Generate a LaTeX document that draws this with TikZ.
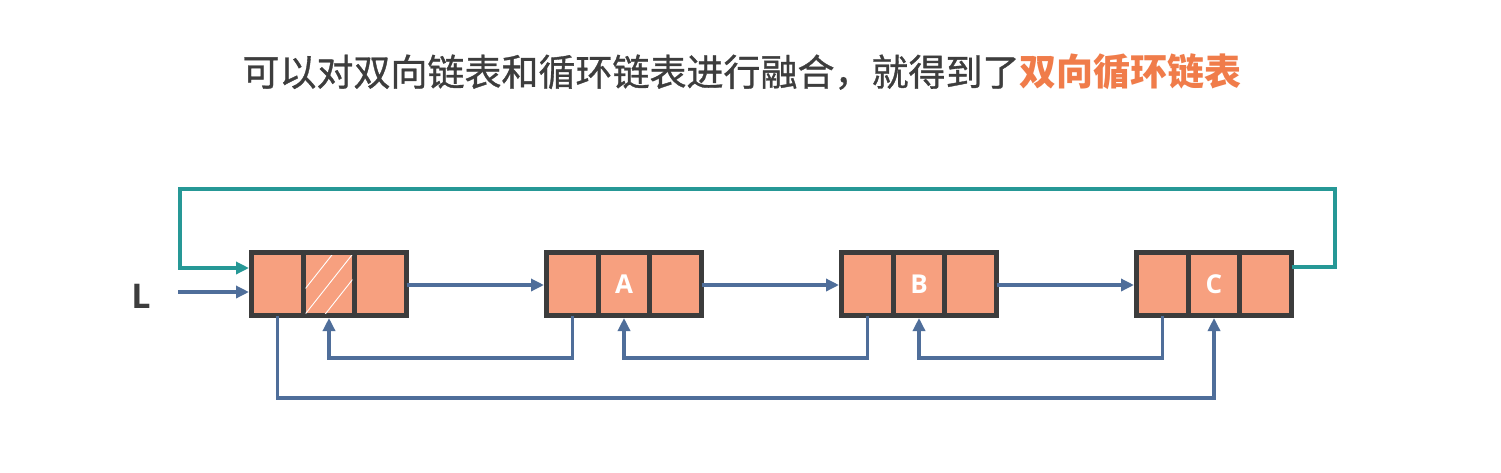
\documentclass[tikz,border=0pt]{standalone}
\usepackage{fontspec}
\setmainfont{Open Sans}
\newfontfamily\cjk[FakeBold=0.9]{Noto Sans CJK SC}
\newfontfamily\cjkb{Noto Sans CJK SC}
\usetikzlibrary{arrows.meta,calc}
\definecolor{salmon}{HTML}{F7A07F}
\definecolor{boxc}{HTML}{3C3C3C}
\definecolor{linkc}{HTML}{4F6E9A}
\definecolor{loopc}{HTML}{269896}
\definecolor{titlec}{HTML}{3D3D3D}
\definecolor{accent}{HTML}{F07C4A}
\tikzset{
  cell/.style={draw=boxc, line width=5pt, fill=salmon, minimum width=51.67pt, minimum height=63pt,
    inner sep=0pt, outer sep=0pt, text=white, font=\fontsize{26}{26}\selectfont\bfseries},
  link/.style={draw=linkc, line width=3.5pt, -{Triangle[length=13pt,width=12pt]}, shorten >=2.5pt},
  looplink/.style={draw=loopc, line width=3.5pt, -{Triangle[length=13pt,width=12pt]}, shorten >=2.5pt},
}
\begin{document}
\begin{tikzpicture}[x=1pt,y=-1pt]
\useasboundingbox[fill=white] (0,0) rectangle (1501,472);
% title
\node[font=\fontsize{37}{40}\selectfont, text=titlec, inner sep=0pt] (title) at (742,72)
  {\cjk 可以对双向链表和循环链表进行融合，就得到了\textcolor{accent}{\cjkb\bfseries 双向循环链表}};
% nodes
\foreach \k/\lab [count=\i] in {1/{},2/A,3/B,4/C}{
  \pgfmathsetmacro{\xa}{249+2.5+25.835+295*(\k-1)}
  \node[cell] (n\k a) at (\xa,284) {};
  \node[cell] (n\k b) at (\xa+51.67,284) {\lab};
  \node[cell] (n\k c) at (\xa+103.34,284) {};
}
% hatch in first node's middle cell
\begin{scope}
  \clip ($(n1b.south west)+(2.5pt,2.5pt)$) rectangle ($(n1b.north east)+(-2.5pt,-2.5pt)$);
  \foreach \d in {-20,0,20}{
    \draw[white, line width=0.9pt] ($(n1b.center)+(\d,0)+(-30,38)$) -- ($(n1b.center)+(\d,0)+(30,-38)$);
  }
\end{scope}
% forward links
\draw[link] (n1c.east |- 0,285) -- (n2a.west |- 0,285);
\draw[link] (n2c.east |- 0,285) -- (n3a.west |- 0,285);
\draw[link] (n3c.east |- 0,285) -- (n4a.west |- 0,285);
% backward links
\draw[link] (n2a.south) -- (n2a.south |- 0,358) -| (n1b.south);
\draw[link] (n3a.south) -- (n3a.south |- 0,358) -| (n2b.south);
\draw[link] (n4a.south) -- (n4a.south |- 0,358) -| (n3b.south);
% big loop bottom
\draw[link] (n1a.south) -- (n1a.south |- 0,398) -| (n4b.south);
% teal loop top
\coordinate (tr) at (1335,189);
\coordinate (tl) at (180,189);
\draw[looplink] ([yshift=17pt]n4c.east) -| (tr) -- (tl) |- ([yshift=16pt]n1a.west);
% L pointer
\node[font=\fontsize{34}{34}\selectfont\bfseries, text=titlec, inner sep=0pt] (L) at (141,296) {L};
\coordinate (lstart) at (178,292);
\draw[link] (lstart) -- ([yshift=-8pt]n1a.west);
\end{tikzpicture}
\end{document}
